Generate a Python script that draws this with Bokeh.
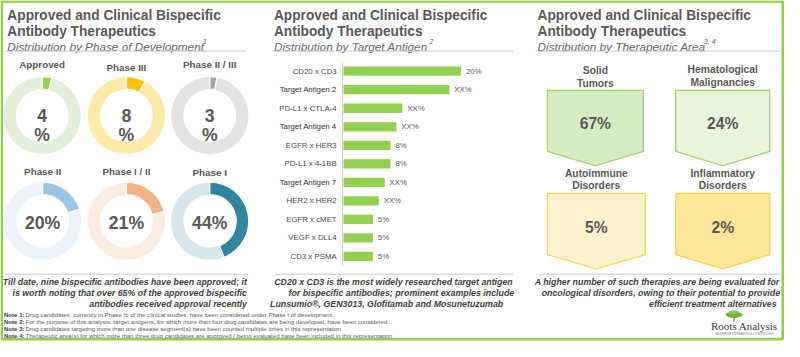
from bokeh.plotting import figure
from bokeh.models import Range1d, ColumnDataSource
from bokeh.core.properties import value
from bokeh.embed import file_html
from bokeh.resources import INLINE
import math

# ---------------- data ----------------
titles_line1 = ["Approved and Clinical Bispecific"] * 3
titles_line2 = ["Antibody Therapeutics"] * 3
subtitles = ["Distribution by Phase of Development", "Distribution by Target Antigen",
             "Distribution by Therapeutic Area"]
subtitle_notes = ["1", "2", "3, 4"]

phase_labels = ["Approved", "Phase III", "Phase II / III", "Phase II", "Phase I / II", "Phase I"]
phase_values = [4, 8, 3, 20, 21, 44]
phase_colors = ["#92D050", "#FFC000", "#A6A6A6", "#9DC3E6", "#F4B183", "#31859C"]
phase_bg = ["#E2F0D9", "#FFEAA8", "#E3E3E3", "#EAF2FA", "#FCEBDF", "#D5E7EC"]

antigen_labels = ["CD20 x CD3", "Target Antigen 2", "PD-L1 x CTLA-4", "Target Antigen 4",
                  "EGFR x HER3", "PD-L1 x 4-1BB", "Target Antigen 7", "HER2 x HER2",
                  "EGFR x cMET", "VEGF x DLL4", "CD3 x PSMA"]
antigen_values = [20, 18, 10, 9, 8, 8, 7, 6, 5, 5, 5]
antigen_value_labels = ["20%", "XX%", "XX%", "XX%", "8%", "8%", "XX%", "XX%", "5%", "5%", "5%"]

area_labels = [["Solid", "Tumors"], ["Hematological", "Malignancies"],
               ["Autoimmune", "Disorders"], ["Inflammatory", "Disorders"]]
area_values = [67, 24, 5, 2]
area_fill = ["#D5ECC2", "#E8F5DD", "#FFF2CC", "#FFE699"]
area_line = ["#9BD35F", "#9BD35F", "#FFD54F", "#FFD040"]

bottom_texts = [
    ["Till date, nine bispecific antibodies have been approved; it",
     "is worth noting that over 65% of the approved bispecific",
     "antibodies received approval recently"],
    ["CD20 x CD3 is the most widely researched target antigen",
     "for bispecific antibodies; prominent examples include",
     "Lunsumio®, GEN3013, Glofitamab and Mosunetuzumab"],
    ["A higher number of such therapies are being evaluated for",
     "oncological disorders, owing to their potential to provide",
     "efficient treatment alternatives"],
]
note_heads = ["Note 1:", "Note 2:", "Note 3:", "Note 4:"]
note_texts = [
    "Drug candidates, currently in Phase Ib of the clinical studies, have been considered under Phase I of development",
    "For the purpose of this analysis, target antigens, for which more than four drug candidates are being developed, have been considered",
    "Drug candidates targeting more than one disease segment(s) have been counted multiple times in this representation",
    "Therapeutic area(s) for which more than three drug candidates are approved / being evaluated have been included in this representation",
]

# ---------------- figure ----------------
W, H = 784, 341
RW, RH = 800.0, 357.0
SX = W / RW


def FS(px):
    return f"{px * SX:.2f}px"


def Y(y):
    return RH - y


p = figure(width=W, height=H, x_range=Range1d(0, RW), y_range=Range1d(0, RH),
           output_backend="svg", toolbar_location=None, min_border=0,
           x_axis_location=None, y_axis_location=None,
           background_fill_color="white", border_fill_color="white")
p.outline_line_color = None
p.grid.visible = False

FONT = "Liberation Sans"
GRAY = "#595959"


def txt(xs, ys, texts, size, color=GRAY, style="normal", align="left",
        baseline="middle", font=FONT, xr=None, yr=None):
    n = len(texts)
    cols = color if isinstance(color, list) else [color] * n
    src = ColumnDataSource(dict(x=list(xs), y=list(ys), text=list(texts), c=cols))
    kw = {}
    if xr:
        kw["x_range_name"] = xr
    if yr:
        kw["y_range_name"] = yr
    p.text(x="x", y="y", text="text", source=src, text_font=value(font),
           text_font_size=FS(size), text_font_style=style, text_color="c",
           text_align=align, text_baseline=baseline, **kw)


# ---------------- headers ----------------
title_x = [7, 279, 548]
txt(title_x, [Y(15.5)] * 3, titles_line1, 14, style="bold", baseline="alphabetic")
txt(title_x, [Y(32)] * 3, titles_line2, 14, style="bold", baseline="alphabetic")
txt(title_x, [Y(48)] * 3, subtitles, 12, color="#666666", style="italic", baseline="alphabetic")
txt([206.5, 437.5, 717.5], [Y(43)] * 3, subtitle_notes, 7.5, color="#666666",
    style="italic", baseline="alphabetic")

# separator lines
p.segment(x0=[5, 278, 546], y0=[Y(53)] * 3, x1=[251, 523, 795], y1=[Y(53)] * 3,
          line_color="#C8C8C8", line_width=1)
p.segment(x0=[5, 280, 549], y0=[Y(286.5)] * 3, x1=[253, 523, 795], y1=[Y(286.5)] * 3,
          line_color="#C8C8C8", line_width=1)

# ---------------- donuts ----------------
cx = [42.5, 128.5, 213.5, 43, 128.5, 213.5]
cy = [120.5, 120.5, 120.5, 231, 231, 231]
lab_y = [67, 70, 67, 179.5, 179.5, 180.5]
R_OUT, R_IN = 39.5, 27.0

p.annulus(x=cx, y=[Y(v) for v in cy], inner_radius=R_IN, outer_radius=R_OUT,
          fill_color=phase_bg, line_color=None)
start = [math.pi / 2 - 2 * math.pi * v / 100 for v in phase_values]
p.annular_wedge(x=cx, y=[Y(v) for v in cy], inner_radius=R_IN, outer_radius=R_OUT + 0.3,
                start_angle=start, end_angle=[math.pi / 2] * 6, direction="anticlock",
                fill_color=phase_colors, line_color="white", line_width=1.3)
txt(cx, [Y(v) for v in lab_y], phase_labels, 10, style="bold", align="center")
# first row: value and % on two lines, second row: one line
txt(cx[:3], [Y(120.5)] * 3, [str(v) for v in phase_values[:3]], 18, style="bold",
    align="center")
txt(cx[:3], [Y(140.5)] * 3, ["%"] * 3, 18, style="bold", align="center")
txt(cx[3:], [Y(233)] * 3, [f"{v}%" for v in phase_values[3:]], 18, style="bold",
    align="center")

# ---------------- bar chart ----------------
BAR_X0, PX_PER_PCT = 350.0, 6.0
ROW0, ROW_STEP = 74.0, 19.4
p.extra_x_ranges = {"bx": Range1d(-BAR_X0 / PX_PER_PCT, (RW - BAR_X0) / PX_PER_PCT)}
p.extra_y_ranges = {"by": Range1d(-(RH - ROW0) / ROW_STEP, ROW0 / ROW_STEP)}
idx = [-i for i in range(len(antigen_labels))]
p.hbar(y=idx, left=0, right=antigen_values, height=0.5, fill_color="#92D050",
       line_color=None, x_range_name="bx", y_range_name="by")
p.segment(x0=[349], y0=[Y(65)], x1=[349], y1=[Y(278)], line_color="#D0D0D0", line_width=1)
cat_colors = ["#2F2F2F" if lab.startswith("Target") else "#4A4A4A" for lab in antigen_labels]
txt([343] * len(idx), idx, antigen_labels, 8, color=cat_colors, align="right", yr="by")
txt([v + 5 / PX_PER_PCT for v in antigen_values], idx, antigen_value_labels, 8,
    color="#595959", xr="bx", yr="by")

# ---------------- therapeutic areas ----------------
boxes = [(558, 656, 94, 158, 173), (689, 785, 94, 158, 173),
         (558, 658, 202, 266, 281), (689, 785, 202, 266, 281)]
pxs, pys = [], []
for (l, r, t, sb, tip) in boxes:
    c = (l + r) / 2
    pxs.append([l, r, r, c, l])
    pys.append([Y(t), Y(t), Y(sb), Y(tip), Y(sb)])
p.patches(xs=pxs, ys=pys, fill_color=area_fill, line_color=area_line, line_width=1.2)
acx = [(b[0] + b[1]) / 2 for b in boxes]
l1y = [73, 72.5, 181.5, 181.5]
l2y = [86.5, 85.5, 194, 194]
txt(acx, [Y(v) for v in l1y], [a[0] for a in area_labels], 10.5, style="bold", align="center")
txt(acx, [Y(v) for v in l2y], [a[1] for a in area_labels], 10.5, style="bold", align="center")
txt(acx, [Y(v) for v in [128.5, 128.5, 238, 238]], [f"{v}%" for v in area_values], 16,
    style="bold", align="center")

# ---------------- bottom texts ----------------
line_y = [Y(295), Y(306.5), Y(318)]
txt([251.5] * 3, line_y, bottom_texts[0], 9, color="#3F3F3F", style="bold italic", align="right")
txt([401, 409, 394], line_y, bottom_texts[1], 9, color="#3F3F3F", style="bold italic",
    align="center")
txt([795, 795.5, 792], line_y, bottom_texts[2], 9, color="#3F3F3F", style="bold italic",
    align="right")

ny = [Y(v) for v in [328.3, 335.8, 343.3, 350.8]]
txt([3.5] * 4, ny, note_heads, 6.2, color="#404040", style="bold")
txt([25.5] * 4, ny, note_texts, 6.2, color="#595959")

# ---------------- logo ----------------
p.ellipse(x=[748.5], y=[Y(329)], width=17, height=6.5, fill_color="#6DB33F", line_color=None)
p.ellipse(x=[748.5], y=[Y(326.5)], width=10, height=4, fill_color="#8CC63F", line_color=None)
p.segment(x0=[748.5], y0=[Y(331)], x1=[748.5], y1=[Y(336)], line_color="#6B5A3A", line_width=1)
txt([725], [Y(341)], ["Roots Analysis"], 11.2, color="#3A3A3A",
    font="Liberation Serif", baseline="alphabetic")
txt([759], [Y(348.5)], ["BUSINESS RESEARCH & CONSULTING"], 3.2, color="#777777", align="center")

# ---------------- outer frame ----------------
p.quad(left=[1.3], right=[798.2], top=[Y(1.0)], bottom=[Y(354.6)], fill_color=None,
       line_color="#92D050", line_width=2.6)

open("out.html", "w").write(file_html(p, INLINE))
